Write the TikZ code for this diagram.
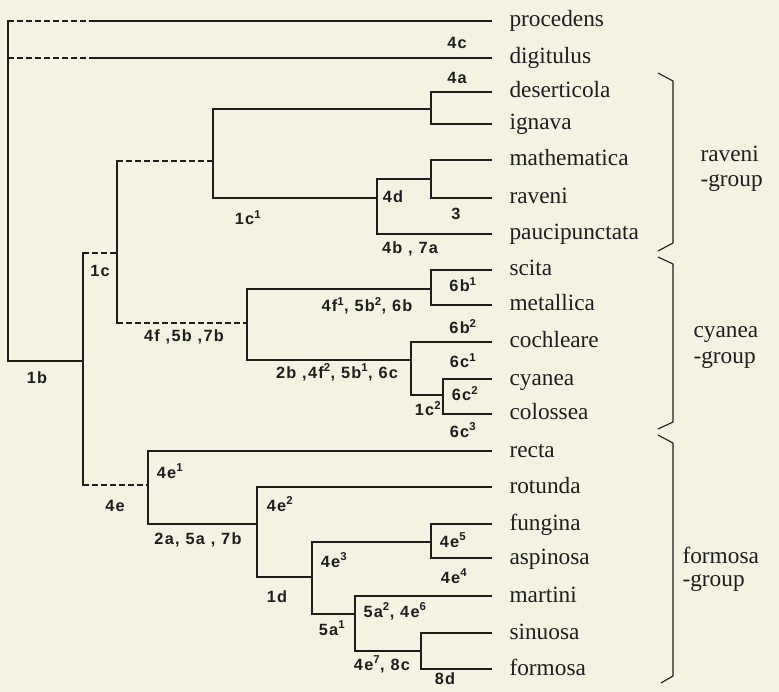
\documentclass[tikz,border=0pt]{standalone}
\usepackage{fontspec}
\setmainfont{Liberation Serif}
\newfontfamily\labfont[LetterSpace=8.0]{Liberation Sans Bold}
\definecolor{paper}{RGB}{244,242,225}
\definecolor{ink}{RGB}{30,30,30}
\newcommand\sy[1]{\textsuperscript{#1}}
\begin{document}
\begin{tikzpicture}[x=1pt,y=-1pt,line width=1.1pt,draw=ink,line cap=rect,
  dsh/.style={dash pattern=on 5.5pt off 3.5pt,line cap=butt},
  leaf/.style={font=\fontsize{23.3}{26}\selectfont,inner sep=0pt,anchor=base west,text=ink},
  grp/.style={font=\fontsize{23.3}{26}\selectfont,inner sep=0pt,anchor=base west,text=ink},
  lab/.style={font=\labfont\fontsize{16.3}{17}\selectfont,inner sep=0pt,anchor=base,text=ink}]
\fill[paper] (0,0) rectangle (779,692);
\useasboundingbox (0,0) rectangle (779,692);
% leaf line ends
\foreach \n/\y in {pro/21,dig/58,des/92,ign/124,mat/160,rav/198,pau/234,sci/270,met/305,coc/342,cya/379,col/414,rec/451,rot/487,fun/524,asp/558,mar/596,sin/633,frm/669}
  \coordinate (L\n) at (491,\y);
% leaf names
\foreach \n/\t in {pro/procedens,dig/digitulus,des/deserticola,ign/ignava,mat/mathematica,rav/raveni,pau/paucipunctata,sci/scita,met/metallica,coc/cochleare,cya/cyanea,col/colossea,rec/recta,rot/rotunda,fun/fungina,asp/aspinosa,mar/martini,sin/sinuosa,frm/formosa}
  \node[leaf] (\n) at ([xshift=18pt,yshift=-6pt]L\n) {\t};
% internal nodes
\coordinate (R) at (8,361);
\coordinate (N1) at (83,361);
\coordinate (N2) at (117,253);
\coordinate (N3) at (148,485);
\coordinate (N4) at (213,161);
\coordinate (N5) at (247,323);
\coordinate (N6) at (431,109);
\coordinate (N7) at (377,198);
\coordinate (N8) at (431,179);
\coordinate (N9) at (431,289);
\coordinate (N10) at (411,360);
\coordinate (N11) at (443,395);
\coordinate (N12) at (257,524);
\coordinate (N13) at (312,577);
\coordinate (N14) at (431,542);
\coordinate (N15) at (355,614);
\coordinate (N16) at (421,651);
% verticals
\foreach \n/\a/\b in {R/Lpro/N1,N1/N2/N3,N2/N4/N5,N4/N6/N7,N6/Ldes/Lign,N7/N8/Lpau,N8/Lmat/Lrav,N5/N9/N10,N9/Lsci/Lmet,N10/Lcoc/N11,N11/Lcya/Lcol,N3/Lrec/N12,N12/Lrot/N13,N13/N14/N15,N14/Lfun/Lasp,N15/Lmar/N16,N16/Lsin/Lfrm}
  \draw (\n |- \a) -- (\n |- \b);
% solid horizontals
\foreach \p/\c in {R/N1,N4/N6,N4/N7,N6/Ldes,N6/Lign,N7/N8,N7/Lpau,N8/Lmat,N8/Lrav,N5/N9,N5/N10,N9/Lsci,N9/Lmet,N10/Lcoc,N10/N11,N11/Lcya,N11/Lcol,N3/Lrec,N3/N12,N12/Lrot,N12/N13,N13/N14,N13/N15,N14/Lfun,N14/Lasp,N15/Lmar,N15/N16,N16/Lsin,N16/Lfrm}
  \draw (\p |- \c) -- (\c);
% dashed horizontals
\foreach \p/\c in {N1/N2,N1/N3,N2/N4,N2/N5}
  \draw[dsh] (\p |- \c) -- (\c);
\draw[dsh] (R |- Lpro) -- ++(87,0) coordinate (Dpro);
\draw (Dpro) -- (Lpro);
\draw[dsh] (R |- Ldig) -- ++(87,0) coordinate (Ddig);
\draw (Ddig) -- (Ldig);
% braces
\draw[line cap=butt,line join=miter] (658,73) -- (673,81) -- (673,243) -- (658,251);
\draw[line cap=butt,line join=miter] (658,257) -- (673,264) -- (673,422) -- (658,429);
\draw[line cap=butt,line join=miter] (658,435) -- (673,443) -- (673,676) -- (661,683);
% group labels
\node[grp] (g1a) at (700,162) {raveni};
\node[grp] (g1b) at (700,187) {-group};
\node[grp] (g2a) at (693,338) {cyanea};
\node[grp] (g2b) at (693,364) {-group};
\node[grp] (g3a) at (682,563) {formosa};
\node[grp] (g3b) at (682,586) {-group};
% character labels
\node[lab] (t4c) at (457,49) {4c};
\node[lab] (t4a) at (457,84) {4a};
\node[lab] (t1c1) at (248,225) {1c\sy{1}};
\node[lab] (t4d) at (393,203) {4d};
\node[lab] (t3) at (456,220) {3};
\node[lab] (t4b) at (410,254) {4b , 7a};
\node[lab] (t1c) at (100,277) {1c};
\node[lab] (t6b1) at (463,292) {6b\sy{1}};
\node[lab] (t4f1) at (367,312) {4f\sy{1}, 5b\sy{2}, 6b};
\node[lab] (t4f) at (184,342) {4f ,5b ,7b};
\node[lab] (t1b) at (37,384) {1b};
\node[lab] (t2b) at (337,378) {2b ,4f\sy{2}, 5b\sy{1}, 6c};
\node[lab] (t6b2) at (463,334) {6b\sy{2}};
\node[lab] (t6c1) at (463,368) {6c\sy{1}};
\node[lab] (t6c2) at (465,401) {6c\sy{2}};
\node[lab] (t1c2) at (428,416) {1c\sy{2}};
\node[lab] (t6c3) at (463,437) {6c\sy{3}};
\node[lab] (t4e1) at (170,478) {4e\sy{1}};
\node[lab] (t4e) at (115,511) {4e};
\node[lab] (t2a) at (198,544) {2a, 5a , 7b};
\node[lab] (t4e2) at (280,511) {4e\sy{2}};
\node[lab] (t1d) at (277,602) {1d};
\node[lab] (t4e3) at (334,567) {4e\sy{3}};
\node[lab] (t5a1) at (332,635) {5a\sy{1}};
\node[lab] (t5a2) at (395,617) {5a\sy{2}, 4e\sy{6}};
\node[lab] (t4e7) at (382,670) {4e\sy{7}, 8c};
\node[lab] (t8d) at (445,684) {8d};
\node[lab] (t4e5) at (453,547) {4e\sy{5}};
\node[lab] (t4e4) at (454,583) {4e\sy{4}};
\end{tikzpicture}
\end{document}
